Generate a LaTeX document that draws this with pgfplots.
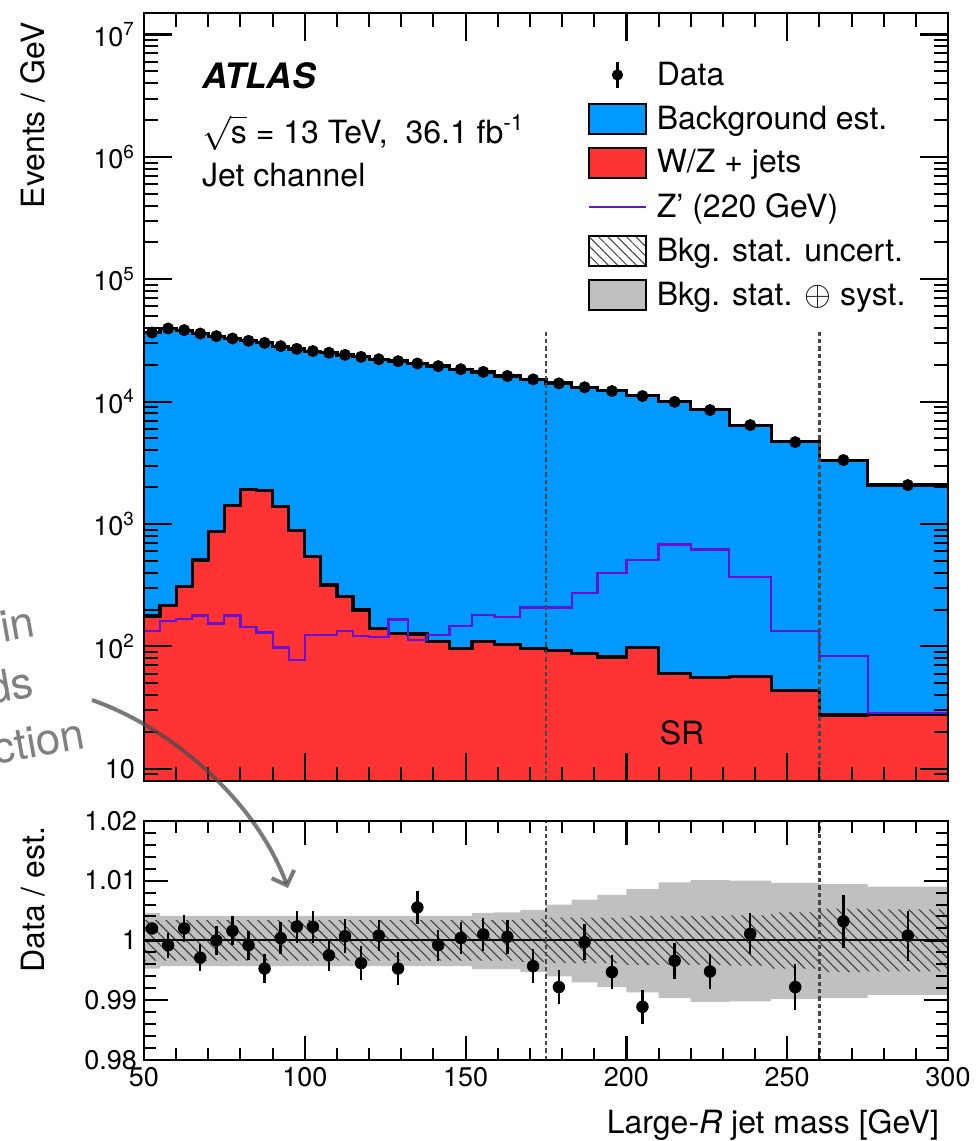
\documentclass[border=0pt]{standalone}
\usepackage{fontspec}
\setmainfont{TeX Gyre Heros}
\usepackage{pgfplots}
\pgfplotsset{compat=1.18}
\usepackage{pgfplotstable}
\usepgfplotslibrary{fillbetween}
\usetikzlibrary{patterns.meta,arrows.meta}

\definecolor{bkgblue}{RGB}{0,153,255}
\definecolor{wzred}{RGB}{255,51,51}
\definecolor{zpurple}{RGB}{102,17,214}
\definecolor{bandgray}{RGB}{192,192,192}

\pgfplotstableread{
edge center bkg wz zp data ratio rerr stat tup tlo
50 52.5 36630 177 134 36700 1.0020 0.0009 0.0034 0.0046 0.0047
55 57.5 39630 217 162 39600 0.9992 0.0021 0.0034 0.0041 0.0043
60 62.5 38330 307 167 38400 1.0020 0.0022 0.0034 0.0041 0.0043
65 67.5 36110 507 179 36000 0.9971 0.0023 0.0034 0.0041 0.0043
70 72.5 34300 864 154 34300 1.0000 0.0024 0.0034 0.0041 0.0043
75 77.5 32750 1426 179 32800 1.0016 0.0024 0.0034 0.0041 0.0043
80 82.5 31430 1917 145 31400 0.9992 0.0024 0.0034 0.0041 0.0043
85 87.5 30340 1868 130 30200 0.9953 0.0025 0.0034 0.0041 0.0043
90 92.5 28390 1383 98 28400 1.0004 0.0026 0.0034 0.0041 0.0043
95 97.5 26940 891 77 27000 1.0023 0.0027 0.0034 0.0041 0.0043
100 102.5 25840 540 124 25900 1.0023 0.0027 0.0034 0.0041 0.0043
105 107.5 25160 317 124 25100 0.9975 0.0027 0.0034 0.0041 0.0043
110 112.5 24080 254 134 24100 1.0007 0.0028 0.0034 0.0041 0.0043
115 117.5 23290 198 122 23200 0.9962 0.0028 0.0034 0.0041 0.0043
120 123 22180 140 120 22200 1.0008 0.0026 0.0034 0.0041 0.0043
126 129 21500 128 166 21400 0.9953 0.0027 0.0034 0.0041 0.0043
132 135 20390 126 113 20500 1.0055 0.0028 0.0034 0.0041 0.0043
138 141.5 19520 109 124 19500 0.9992 0.0026 0.0034 0.0041 0.0043
145 148.5 18390 96 147 18400 1.0004 0.0027 0.0034 0.0041 0.0043
152 155.5 17480 110 180 17500 1.0010 0.0028 0.0034 0.0046 0.0048
159 163 16190 104 175 16200 1.0006 0.0028 0.0034 0.0047 0.0048
167 171 15270 96 208 15200 0.9957 0.0028 0.0036 0.0051 0.0053
175 179 14210 93 208 14100 0.9922 0.0029 0.0038 0.0060 0.0060
183 187 13100 88 271 13100 0.9997 0.0030 0.0038 0.0068 0.0070
191 195.5 12260 82 399 12200 0.9947 0.0029 0.0038 0.0076 0.0078
200 205 11220 98 507 11100 0.9889 0.0028 0.0041 0.0086 0.0087
210 215 9990 60 681 9960 0.9966 0.0030 0.0041 0.0097 0.0096
220 226 8570 56 619 8530 0.9948 0.0030 0.0041 0.0101 0.0103
232 238.5 6420 56.5 370 6430 1.0011 0.0034 0.0042 0.0100 0.0102
245 252.5 4710 43.4 134 4670 0.9922 0.0038 0.0047 0.0096 0.0098
260 267.5 3320 27.5 83 3330 1.0032 0.0044 0.0053 0.0094 0.0096
275 287.5 2080 27.8 28.4 2080 1.0008 0.0042 0.0052 0.0090 0.0091
300 300 2080 27.8 28.4 2080 1.0008 0.0042 0.0052 0.0090 0.0091
}\hist

\pgfplotsset{
  atlasaxis/.style={
    scale only axis, width=402pt,
    xmin=50, xmax=300,
    xtick={50,100,...,300}, minor x tick num=4,
    tick align=inside, axis on top,
    xtick pos=both, ytick pos=both,
    major tick style={black, line width=1.1pt},
    minor tick style={black, line width=1pt},
    axis line style={line width=1pt},
    ticklabel style={font=\fontsize{13.5}{16}\selectfont},
  },
  dashline/.style={forget plot, black!72, line width=1.2pt, dash pattern=on 2.2pt off 1.5pt},
}

\begin{document}
\begin{tikzpicture}

% ---------------- top panel ----------------
\begin{axis}[atlasaxis,
  at={(0pt,0pt)}, anchor=south west, height=384pt,
  ymode=log, log basis y=10, ymin=7.94, ymax=1.5e7,
  xticklabels={},
  tickwidth=14pt, subtickwidth=7pt,
  yticklabel={\pgfmathtruncatemacro\ex{round(\tick)}\ifnum\ex=1 10\else 10\textsuperscript{\ex}\fi},
  yticklabel style={xshift=-1pt},
  legend style={at={(rel axis cs:0.5522,0.9417)}, anchor=north west, draw=none, fill=none,
    inner sep=0pt, outer sep=0pt, font=\fontsize{16}{19}\selectfont,
    row sep=4.8pt, column sep=3pt},
  legend cell align=left,
]
\addlegendimage{legend image code/.code={\draw[line width=1.2pt] (14.2pt,-6.3pt)--(14.2pt,6.3pt); \fill (14.2pt,0pt) circle (2.6pt);}}
\addlegendentry{Data}
\addlegendimage{legend image code/.code={\draw[fill=bkgblue, line width=1pt] (0pt,-7.5pt) rectangle (28.3pt,7.5pt);}}
\addlegendentry{Background est.}
\addlegendimage{legend image code/.code={\draw[fill=wzred, line width=1pt] (0pt,-7.5pt) rectangle (28.3pt,7.5pt);}}
\addlegendentry{W/Z + jets}
\addlegendimage{legend image code/.code={\draw[zpurple, line width=1.1pt] (0pt,0pt) -- (28.3pt,0pt);}}
\addlegendentry{Z' (220 GeV)}
\addlegendimage{legend image code/.code={\fill[white] (0pt,-7.5pt) rectangle (28.3pt,7.5pt); \fill[pattern={Lines[angle=-45,distance=3.3pt,line width=0.5pt]}, pattern color=black!75] (0pt,-7.5pt) rectangle (28.3pt,7.5pt); \draw[line width=1pt] (0pt,-7.5pt) rectangle (28.3pt,7.5pt);}}
\addlegendentry{Bkg. stat. uncert.}
\addlegendimage{legend image code/.code={\draw[fill=bandgray, line width=1pt] (0pt,-7.5pt) rectangle (28.3pt,7.5pt);}}
\addlegendentry{Bkg. stat. $\oplus$ syst.}

\addplot[forget plot, const plot, fill=bkgblue, draw=none] table[x=edge, y=bkg] {\hist} -- (axis cs:300,1) -- (axis cs:50,1) -- cycle;
\addplot[forget plot, const plot, black, line width=1.6pt] table[x=edge, y=bkg] {\hist};
\addplot[forget plot, const plot, fill=wzred, draw=none] table[x=edge, y=wz] {\hist} -- (axis cs:300,1) -- (axis cs:50,1) -- cycle;
\addplot[forget plot, const plot, black, line width=1.6pt] table[x=edge, y=wz] {\hist};
\addplot[forget plot, const plot, zpurple, line width=1.1pt] table[x=edge, y=zp] {\hist};
\addplot[dashline] coordinates {(175,1) (175,38400)};
\addplot[dashline] coordinates {(260,1) (260,38400)};
\addplot[forget plot, only marks, mark=*, mark size=2.8pt, black] table[x=center, y=data, skip coords between index={32}{33}] {\hist};
\end{axis}

% ---------------- ratio panel ----------------
\begin{axis}[atlasaxis,
  at={(0pt,-139.5pt)}, anchor=south west, height=119.6pt,
  ymin=0.98, ymax=1.02,
  ytick={0.98,0.99,1,1.01,1.02}, yticklabels={0.98,0.99,1,1.01,1.02},
  minor y tick num=4,
  xticklabels={50,100,150,200,250,300},
  tickwidth=12pt, subtickwidth=6pt,
]
\addplot[name path=tu, const plot, draw=none, forget plot] table[x=edge, y expr=1+\thisrow{tup}] {\hist};
\addplot[name path=tl, const plot, draw=none, forget plot] table[x=edge, y expr=1-\thisrow{tlo}] {\hist};
\addplot[fill=bandgray, draw=none, forget plot] fill between[of=tu and tl];
\addplot[name path=su, const plot, draw=none, forget plot] table[x=edge, y expr=1+\thisrow{stat}] {\hist};
\addplot[name path=sl, const plot, draw=none, forget plot] table[x=edge, y expr=1-\thisrow{stat}] {\hist};
\addplot[pattern={Lines[angle=-45,distance=3.6pt,line width=0.55pt]}, pattern color=black!75, draw=none, forget plot] fill between[of=su and sl];
\addplot[forget plot, black, line width=1pt] coordinates {(50,1) (300,1)};
\addplot[dashline] coordinates {(175,0.98) (175,1.02)};
\addplot[dashline] coordinates {(260,0.98) (260,1.02)};
\addplot[forget plot, only marks, mark=*, mark size=2.9pt, black,
  error bars/.cd, y dir=both, y explicit, error mark=none,
  error bar style={line width=1.2pt}]
  table[x=center, y=ratio, y error=rerr, skip coords between index={32}{33}] {\hist};
\end{axis}

% ---------------- texts ----------------
\node[anchor=base west, font=\bfseries\itshape\fontsize{17.5}{20}\selectfont] at (25.5pt,346.4pt) {ATLAS};
\node[anchor=base west, font=\fontsize{16}{19}\selectfont] at (25.5pt,318.8pt) {$\sqrt{\mbox{s}}$ = 13 TeV,\ \ 36.1 fb\textsuperscript{-1}};
\node[anchor=base west, font=\fontsize{16}{19}\selectfont] at (25.5pt,297.2pt) {Jet channel};
\node[anchor=base, font=\fontsize{16}{19}\selectfont] at (269pt,18pt) {SR};
\node[rotate=90, anchor=base east, font=\fontsize{16}{19}\selectfont] at (-49.5pt,383pt) {Events / GeV};
\node[rotate=90, anchor=base east, font=\fontsize{16}{19}\selectfont] at (-49.5pt,-19.5pt) {Data / est.};
\node[anchor=base east, font=\fontsize{16}{19}\selectfont] at (401pt,-176pt) {Large-\textit{R} jet mass [GeV]};

% ---------------- overlaid annotation ----------------
\node[anchor=base east, rotate=10, text=black!50, font=\fontsize{22}{26}\selectfont] at (-50pt,73pt) {in};
\node[anchor=base east, rotate=10, text=black!50, font=\fontsize{22}{26}\selectfont] at (-51pt,43pt) {ds};
\node[anchor=base east, rotate=10, text=black!50, font=\fontsize{22}{26}\selectfont] at (-25pt,17pt) {ction};
\draw[line width=2pt, draw=black!70, opacity=0.75, -{Straight Barb[length=6pt,width=12pt]}]
  (-26pt,40.5pt) .. controls (14pt,26.5pt) and (56pt,-10pt) .. (72pt,-53.5pt);

\pgfresetboundingbox
\useasboundingbox (-72pt,-180pt) rectangle (416.5pt,390.5pt);
\end{tikzpicture}
\end{document}
